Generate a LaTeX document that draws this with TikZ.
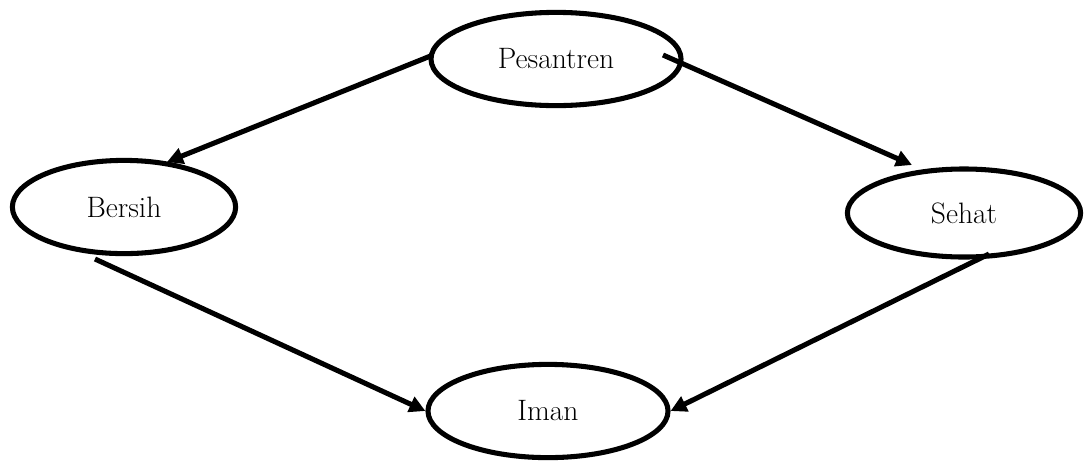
\documentclass[tikz,border=0pt]{standalone}
\usepackage{tikz}
\usetikzlibrary{arrows.meta,calc,positioning,shapes}
\tikzset{
flow/.style={>={Triangle[length=0.4cm,width=0.4cm]},x=0.025cm,y=-0.025cm,
line width=3.6pt,font=\fontsize{21}{25}\selectfont},
place/.style={ellipse,draw,line width=3.6pt,minimum width=#1,minimum height=2.33cm,inner sep=0pt},
place/.default={6.25cm},
}
\begin{document}
\begin{tikzpicture}[flow]
                \useasboundingbox (0,0) rectangle (1084,462);
                \node[place] (pes) at (556,59) {Pesantren};
                \node[place=5.58cm] (ber) at (124,207) {Bersih};
                \node[place=5.83cm,minimum height=2.2cm] (seh) at (964,213) {Sehat};
                \node[place=6cm] (iman) at (548,411) {Iman};
                
                
                \path[->] ($(pes)+(-123,-4)$) edge ($(ber)+(43,-45)$);
                \path[->] ($(pes)+(107,-4)$) edge ($(seh)+(-52,-48)$);
                \path[->] ($(ber)+(-29,52)$) edge (iman.west);
                \path[->] ($(seh)+(25,41)$) edge (iman.east);
            \end{tikzpicture}
\end{document}
